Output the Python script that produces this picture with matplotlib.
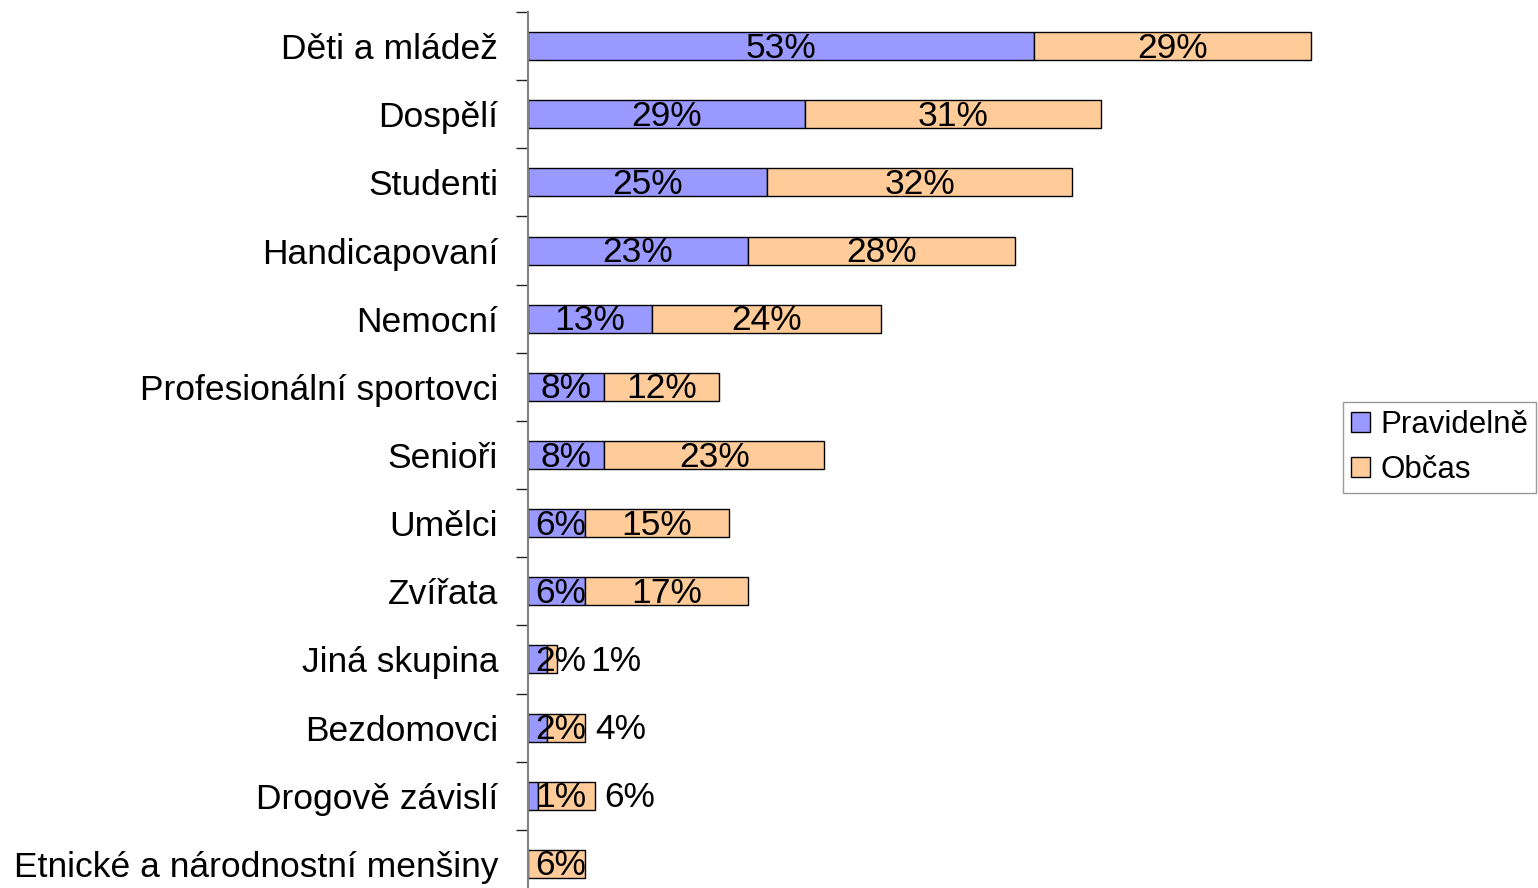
import numpy as np
import matplotlib
matplotlib.use('agg')
import matplotlib.pyplot as plt

plt.rcParams['font.family'] = ['Liberation Sans', 'DejaVu Sans']

# data
categories = ['Děti a mládež', 'Dospělí', 'Studenti', 'Handicapovaní', 'Nemocní',
              'Profesionální sportovci', 'Senioři', 'Umělci', 'Zvířata', 'Jiná skupina',
              'Bezdomovci', 'Drogově závislí', 'Etnické a národnostní menšiny']
pravidelne = [53, 29, 25, 23, 13, 8, 8, 6, 6, 2, 2, 1, 0]
obcas = [29, 31, 32, 28, 24, 12, 23, 15, 17, 1, 4, 6, 6]
series_names = ['Pravidelně', 'Občas']

c_blue = '#9999FF'
c_orange = '#FFCC99'

fig = plt.figure(figsize=(15.38, 8.88), dpi=100)
ax = fig.add_axes([528 / 1538, -10 / 888, 955 / 1538, 886 / 888])

y = np.arange(len(categories))
h = 0.41
ax.barh(y, pravidelne, height=h, color=c_blue, edgecolor='black', linewidth=1.0, label=series_names[0])
ax.barh(y, obcas, left=pravidelne, height=h, color=c_orange, edgecolor='black', linewidth=1.0, label=series_names[1])

# value labels, pushed right where the segments are too narrow
fs = 25.5
min_c = 3.45   # smallest label centre (x units)
lw = 5.0       # approx label width (x units)
for i in range(len(categories)):
    p, o = pravidelne[i], obcas[i]
    yt = i + 0.03
    x1 = None
    if p > 0:
        x1 = max(p / 2, min_c)
        ax.text(x1, yt, '{}%'.format(p), ha='center', va='center', fontsize=fs)
    if o > 0:
        x2 = p + o / 2
        if x1 is None:
            x2 = max(x2, min_c)
        elif x2 - lw / 2 < x1 + lw / 2:
            left = max(p + o + 1.2, x1 + lw / 2 + 0.75)
            x2 = left + lw / 2
        ax.text(x2, yt, '{}%'.format(o), ha='center', va='center', fontsize=fs)

ax.set_xlim(0, 100)
ax.set_ylim(len(categories) - 0.5, -0.5)

ax.set_yticks(y)
ax.set_yticklabels(categories, fontsize=fs)
ax.set_yticks(np.arange(len(categories) + 1) - 0.5, minor=True)
ax.tick_params(axis='y', which='major', length=0, pad=21.5)
ax.tick_params(axis='y', which='minor', length=8.6, width=1.0, color='#222222')
ax.xaxis.set_visible(False)

for s in ['top', 'right', 'bottom']:
    ax.spines[s].set_visible(False)
ax.spines['left'].set_color('#808080')
ax.spines['left'].set_linewidth(1.5)

leg = fig.legend(loc='upper left', bbox_to_anchor=(1343 / 1538, 1 - 402 / 888),
                 fontsize=22.5, frameon=True, fancybox=False, edgecolor='#808080',
                 handlelength=0.6, handleheight=0.6, handletextpad=0.35,
                 borderpad=0.25, labelspacing=0.5, borderaxespad=0)
leg.get_frame().set_linewidth(1.0)

fig.savefig('out.png', dpi=100)
